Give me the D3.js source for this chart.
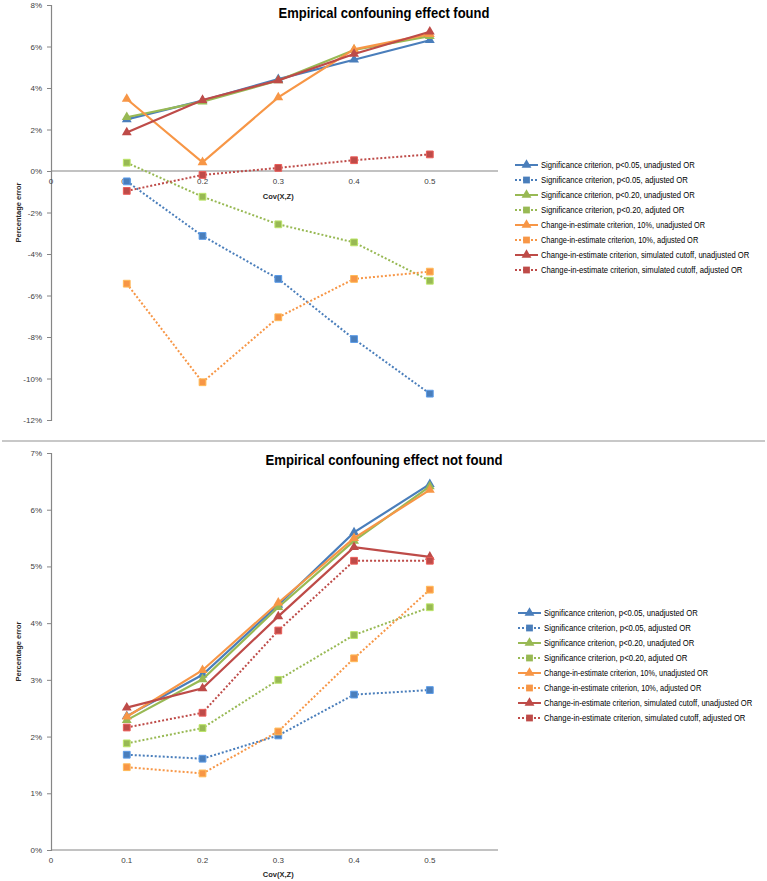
<!DOCTYPE html>
<html><head><meta charset="utf-8">
<script src="https://cdn.jsdelivr.net/npm/d3@7"></script>
<style>body{margin:0;background:#fff}svg{display:block;font-family:"Liberation Sans",Arial,sans-serif}</style>
</head><body><svg id="c" width="767" height="881"></svg>
<script>
const covX = [0.1, 0.2, 0.3, 0.4, 0.5];
const xTicks = [0, 0.1, 0.2, 0.3, 0.4, 0.5];
const seriesNames = [
  "Significance criterion, p<0.05, unadjusted OR",
  "Significance criterion, p<0.05, adjusted OR",
  "Significance criterion, p<0.20, unadjusted OR",
  "Significance criterion, p<0.20, adjuted OR",
  "Change-in-estimate criterion, 10%, unadjusted OR",
  "Change-in-estimate criterion, 10%, adjusted OR",
  "Change-in-estimate criterion, simulated cutoff, unadjusted OR",
  "Change-in-estimate criterion, simulated cutoff, adjusted OR"
];
const seriesNamesBottom = [
  "Significance criterion, p<0.05, unadjusted OR",
  "Significance criterion, p<0.05, adjusted OR",
  "Significance criterion, p<0.20, unadjuted OR",
  "Significance criterion, p<0.20, adjuted OR",
  "Change-in-estimate criterion, 10%, unadjusted OR",
  "Change-in-estimate criterion, 10%, adjusted OR",
  "Change-in-estimate criterion, simulated cutoff, unadjusted OR",
  "Change-in-estimate criterion, simulated cutoff, adjusted OR"
];
const seriesColors = ["#4a7ebb","#4a7ebb","#98b954","#98b954","#f79646","#f79646","#be4b48","#be4b48"];
const seriesAdjusted = [false,true,false,true,false,true,false,true];

// Top chart: Empirical confounding effect found (percentage error, %)
const topValues = [
  [2.49, 3.39, 4.43, 5.36, 6.3],
  [-0.5, -3.13, -5.2, -8.1, -10.73],
  [2.59, 3.34, 4.36, 5.83, 6.5],
  [0.4, -1.24, -2.57, -3.44, -5.29],
  [3.47, 0.42, 3.55, 5.86, 6.6],
  [-5.43, -10.18, -7.05, -5.2, -4.85],
  [1.86, 3.42, 4.37, 5.64, 6.71],
  [-0.96, -0.19, 0.15, 0.52, 0.8]
];
const topYTicks = [-12,-10,-8,-6,-4,-2,0,2,4,6,8];

// Bottom chart: Empirical confounding effect not found
const bottomValues = [
  [2.36, 3.09, 4.32, 5.6, 6.45],
  [1.68, 1.61, 2.02, 2.74, 2.82],
  [2.29, 3.01, 4.28, 5.45, 6.41],
  [1.88, 2.15, 3.0, 3.79, 4.28],
  [2.35, 3.17, 4.36, 5.5, 6.35],
  [1.46, 1.35, 2.09, 3.38, 4.59],
  [2.51, 2.85, 4.12, 5.34, 5.17],
  [2.16, 2.42, 3.87, 5.1, 5.1]
];
const bottomYTicks = [0,1,2,3,4,5,6,7];

const svg = d3.select("#c");
const axisColor = "#868686";
const textColor = "#404040";

// place a text at (x,y) and squeeze it horizontally (via transform) to at most maxW px
function squeezedText(parent, x, y, str, size, weight, anchor, maxW){
  const gg = parent.append("g").attr("transform",`translate(${x},${y})`);
  const t = gg.append("text").attr("x",0).attr("y",0).attr("text-anchor",anchor)
    .attr("fill","#000").style("font-size",size+"px").style("font-weight",weight).text(str);
  const w = t.node().getComputedTextLength();
  if (w > maxW) t.attr("transform",`scale(${maxW/w},1)`);
  return t;
}

function drawChart(cfg){
  const g = svg.append("g");
  const x = d3.scaleLinear().domain([0, 0.59]).range([51, 498]);
  const y = d3.scaleLinear().domain(cfg.yDomain).range(cfg.yRange);

  // y axis
  const ya = g.append("g").attr("transform","translate(51,0)")
    .call(d3.axisLeft(y).tickValues(cfg.yTicks).tickSize(4).tickPadding(5).tickFormat(d=>d+"%"));
  ya.select(".domain").attr("stroke",axisColor).attr("stroke-width",1.2);
  ya.selectAll(".tick line").attr("stroke",axisColor);
  ya.selectAll(".tick text").attr("fill",textColor).style("font-size","8px").style("font-family","Liberation Sans, Arial, sans-serif");

  // x axis at y=0
  const y0 = y(0);
  g.append("line").attr("x1",x(0)).attr("x2",x(0.59)).attr("y1",y0).attr("y2",y0)
    .attr("stroke",axisColor).attr("stroke-width",1.2);
  g.selectAll(".xt").data(xTicks).enter().append("text")
    .attr("x",d=>x(d)).attr("y",y0+13).attr("text-anchor","middle")
    .attr("fill",textColor).style("font-size","8px").text(d=>d===0?"0":d3.format(".1f")(d));

  // axis titles
  g.append("text").attr("x",x(0.3)).attr("y",cfg.xLabelY).attr("text-anchor","middle")
    .attr("fill","#262626").style("font-size","7.5px").style("font-weight","bold").text("Cov(X,Z)");
  g.append("text").attr("transform",`translate(21,${(cfg.yRange[0]+cfg.yRange[1])/2}) rotate(-90)`)
    .attr("text-anchor","middle").attr("fill","#262626").style("font-size","7.5px").style("font-weight","bold")
    .text("Percentage error");

  // title
  squeezedText(g, cfg.titleX, cfg.titleY, cfg.title, 14.5, "bold", "middle", cfg.titleLen);

  const line = d3.line().x((d,i)=>x(covX[i])).y(d=>y(d));
  const tri = d3.symbol().type(d3.symbolTriangle).size(42);
  const sq = d3.symbol().type(d3.symbolSquare).size(46);

  cfg.values.forEach((vals,si)=>{
    const col = seriesColors[si], adj = seriesAdjusted[si];
    g.append("path").datum(vals).attr("d",line).attr("fill","none").attr("stroke",col)
      .attr("stroke-width",adj?2:2.2).attr("stroke-dasharray",adj?"2,2":null);
    g.selectAll(null).data(vals).enter().append("path")
      .attr("transform",(d,i)=>`translate(${x(covX[i])},${y(d)})`)
      .attr("d",adj?sq:tri).attr("fill",col)
      .attr("stroke",adj?d3.color(col).brighter(0.6):"none").attr("stroke-width",1);
  });

  // legend
  const lg = g.append("g");
  cfg.names.forEach((nm,si)=>{
    const ly = cfg.legendY + si*15;
    const col = seriesColors[si], adj = seriesAdjusted[si];
    lg.append("line").attr("x1",cfg.legendX).attr("x2",cfg.legendX+23).attr("y1",ly).attr("y2",ly)
      .attr("stroke",col).attr("stroke-width",2).attr("stroke-dasharray",adj?"2,2":null);
    lg.append("path").attr("transform",`translate(${cfg.legendX+11.5},${ly})`)
      .attr("d",adj?sq:tri).attr("fill",col);
    squeezedText(lg, cfg.legendX+26, ly+3, nm, 8.5, "normal", "start", nm.length*3.42);
  });
}

drawChart({
  yDomain:[-12,8], yRange:[420,5], yTicks:topYTicks, values:topValues, names:seriesNames,
  xLabelY:199, title:"Empirical confouning effect found", titleX:384, titleY:18, titleLen:211,
  legendX:515, legendY:165
});
// separator between the two chart areas
svg.append("line").attr("x1",2).attr("x2",765).attr("y1",441).attr("y2",441)
  .attr("stroke","#c8c8c8").attr("stroke-width",2);
drawChart({
  yDomain:[0,7], yRange:[850,453], yTicks:bottomYTicks, values:bottomValues, names:seriesNamesBottom,
  xLabelY:877, title:"Empirical confouning effect not found", titleX:384, titleY:465, titleLen:237,
  legendX:518, legendY:613
});
</script></body></html>
